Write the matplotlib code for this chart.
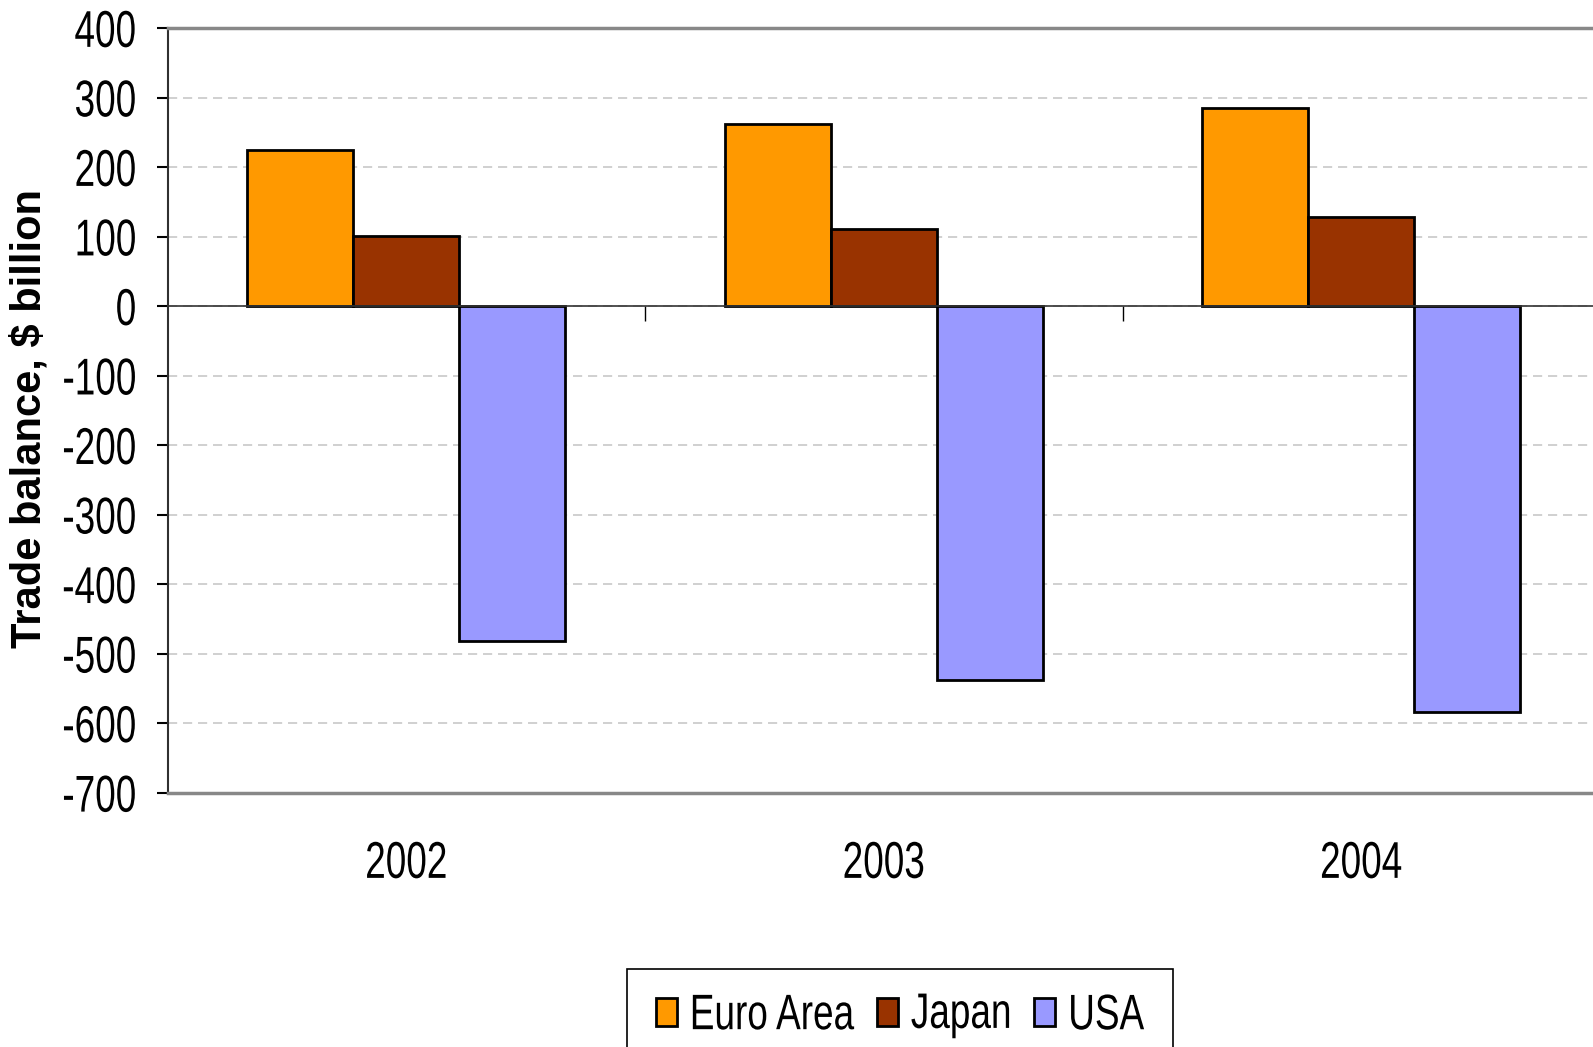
import numpy as np
import matplotlib.pyplot as plt
from matplotlib import patheffects
from matplotlib.transforms import Affine2D

plt.rcParams['font.family'] = ['Liberation Sans Narrow', 'Liberation Sans', 'DejaVu Sans']
plt.rcParams['axes.unicode_minus'] = False

# Trade balance, $ billion
years = ['2002', '2003', '2004']
euro_area = [225, 262, 286]
japan = [101, 111, 129]
usa = [-482, -537, -583]

names = ['Euro Area', 'Japan', 'USA']
colors = ['#FF9900', '#993300', '#9999FF']
values = [euro_area, japan, usa]


class Stretch(patheffects.AbstractPathEffect):
    """Scale glyph outlines about their centre: tall, narrow lettering."""

    def __init__(self, sx=1.0, sy=1.0):
        super().__init__()
        self.sx, self.sy = sx, sy

    def draw_path(self, renderer, gc, tpath, affine, rgbFace=None):
        ext = tpath.get_extents()
        cx, cy = 0.5 * (ext.x0 + ext.x1), 0.5 * (ext.y0 + ext.y1)
        tr = Affine2D().translate(-cx, -cy).scale(self.sx, self.sy).translate(cx, cy)
        renderer.draw_path(gc, tpath, tr + affine, rgbFace)


narrow = [Stretch(1, 1.4)]

fig = plt.figure(figsize=(15.93, 10.47), dpi=100)
ax = fig.add_axes([0.1052, 0.2426, 0.8992, 0.7304])

x = np.arange(len(years))
w = 0.222
for k, (name, vals, col) in enumerate(zip(names, values, colors)):
    ax.bar(x + (k - 1) * w, vals, w, color=col, edgecolor='black',
           linewidth=2, label=name, zorder=3)

ax.set_xlim(-0.5, len(years) - 0.5)
ax.set_ylim(-700, 400)
ax.set_yticks(np.arange(-700, 401, 100))
ax.yaxis.grid(True, linestyle=(0, (5.5, 3.5)), color='#c8c8c8', linewidth=1.2, zorder=0)
ax.tick_params(axis='y', direction='out', length=8, width=1.5, pad=14.5, labelsize=26.6)
ax.set_xticks(x)
ax.set_xticklabels(years)
ax.tick_params(axis='x', length=0, pad=38, labelsize=26.6)
for lbl in ax.get_yticklabels() + ax.get_xticklabels():
    lbl.set_path_effects(narrow)

ax.spines['right'].set_visible(False)
ax.spines['left'].set_color('#303030')
ax.spines['left'].set_linewidth(1.5)
for side in ['top', 'bottom']:
    ax.spines[side].set_color('#888888')
    ax.spines[side].set_linewidth(2.5)

# category axis crossing at zero, with ticks between the years
ax2 = ax.twiny()
ax2.set_xlim(ax.get_xlim())
for side in ['top', 'left', 'right']:
    ax2.spines[side].set_visible(False)
ax2.spines['bottom'].set_position(('data', 0))
ax2.spines['bottom'].set_color('#333333')
ax2.spines['bottom'].set_linewidth(1.2)
ax2.xaxis.set_ticks_position('bottom')
ax2.set_xticks(x[:-1] + 0.5)
ax2.tick_params(axis='x', direction='out', length=11, width=1, labelbottom=False, labeltop=False)

fig.text(30 / 1593, 0.600, 'Trade balance, $ billion', rotation=90, ha='center', va='center',
         fontsize=30, fontweight='bold', family=['Liberation Sans', 'DejaVu Sans'])

leg = ax.legend(loc='upper left', bbox_to_anchor=(0.3936, 0.0747), bbox_transform=fig.transFigure,
                ncol=3, frameon=True, fancybox=False, edgecolor='black', framealpha=1,
                fontsize=26.6, handlelength=0.57, handleheight=0.82, handletextpad=0.35,
                columnspacing=0.62, borderpad=0.78, borderaxespad=0)
leg.get_frame().set_linewidth(1.2)
for txt in leg.get_texts():
    txt.set_path_effects([Stretch(1, 1.35)])

fig.savefig('out.png', dpi=100)
